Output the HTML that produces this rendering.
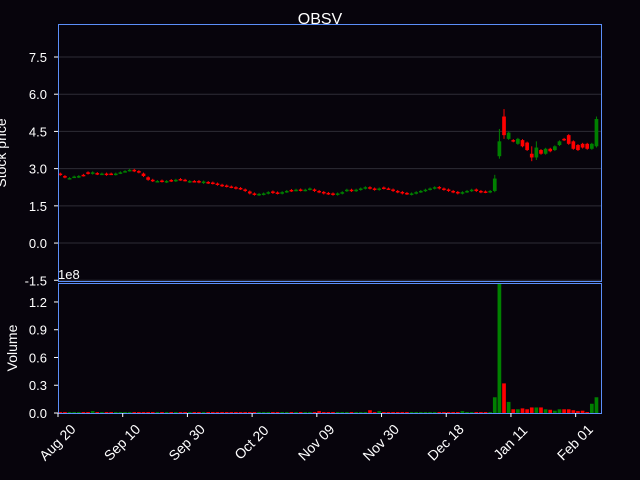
<!DOCTYPE html>
<html><head><meta charset="utf-8"><style>
body{margin:0;background:#07040c;}
svg{display:block;font-family:"Liberation Sans","DejaVu Sans",sans-serif;}
</style></head><body>
<svg id="c" width="640" height="480"></svg>
<script>
const dates=["Aug 20","Sep 10","Sep 30","Oct 20","Nov 09","Nov 30","Dec 18","Jan 11","Feb 01"];
const tickIdx=[0,14,28,42,56,70,84,98,112];
const closeP=[2.75,2.65,2.62,2.68,2.7,2.72,2.8,2.85,2.78,2.8,2.75,2.78,
2.8,2.85,2.9,2.95,2.9,2.85,2.7,2.55,2.5,2.5,2.48,2.5,2.5,2.55,
2.55,2.52,2.5,2.48,2.45,2.48,2.42,2.4,2.35,2.3,2.28,2.25,
2.2,2.18,2.1,2.0,1.95,1.98,2.0,2.05,2.02,2.0,2.05,2.1,2.1,2.15,
2.12,2.15,2.2,2.1,2.05,2.0,1.98,1.95,2.0,2.05,2.15,
2.1,2.15,2.2,2.25,2.2,2.15,2.2,2.2,2.18,2.1,2.05,2.0,1.98,2.0,
2.05,2.1,2.15,2.2,2.25,2.2,2.15,2.1,2.05,2.0,2.05,2.1,
2.15,2.1,2.05,2.05,2.1,
2.6,4.1,4.35,4.45,4.1,4.2,3.9,3.75,3.45,3.85,3.6,3.8,3.7,3.9,4.1,4.15,4.0,3.8,3.75,3.85,3.8,4.0,5.0];
const openP=[2.8,2.7,2.6,2.66,2.66,2.75,2.85,2.8,2.82,2.78,2.8,2.8,
2.76,2.82,2.88,2.92,2.95,2.9,2.8,2.65,2.55,2.48,2.52,2.46,2.54,2.5,
2.58,2.55,2.46,2.5,2.5,2.42,2.46,2.44,2.4,2.35,2.32,2.28,
2.25,2.22,2.16,2.08,2.0,1.94,1.96,2.0,2.08,2.04,2.0,2.06,2.14,2.12,
2.16,2.12,2.16,2.16,2.1,2.06,2.02,2.0,1.95,2.0,2.1,
2.15,2.1,2.15,2.2,2.25,2.2,2.15,2.24,2.2,2.16,2.1,2.06,2.02,1.96,
2.0,2.06,2.1,2.16,2.2,2.26,2.2,2.16,2.1,2.06,2.0,2.06,
2.1,2.16,2.1,2.08,2.05,
2.1,3.5,5.1,4.2,4.15,4.0,4.15,4.05,3.6,3.45,3.75,3.6,3.8,3.75,3.95,4.2,4.35,4.1,3.95,4.0,4.0,3.8,3.9];
const highP={94:2.75,95:4.6,96:5.4,102:3.9,103:4.1,116:5.1};
const lowP={94:2.05,95:3.4,96:4.2,102:3.3,103:3.35,116:3.85};
const volume=[0.01,0.01,0.01,0.01,0.01,0.01,0.01,0.02,0.01,0.01,0.01,0.01,
0.01,0.01,0.01,0.01,0.01,0.01,0.01,0.01,0.01,0.01,0.01,0.01,0.01,0.01,
0.01,0.01,0.01,0.01,0.01,0.01,0.01,0.01,0.01,0.01,0.01,0.01,
0.01,0.01,0.01,0.01,0.01,0.01,0.01,0.01,0.01,0.01,0.01,0.01,0.01,0.01,
0.01,0.01,0.01,0.01,0.02,0.01,0.01,0.01,0.01,0.01,0.01,
0.01,0.01,0.01,0.01,0.03,0.01,0.02,0.01,0.01,0.01,0.01,0.01,0.01,0.01,
0.01,0.01,0.01,0.01,0.01,0.01,0.01,0.01,0.01,0.01,0.02,0.01,
0.01,0.01,0.01,0.01,0.01,
0.17,1.4,0.32,0.12,0.04,0.04,0.05,0.04,0.06,0.06,0.06,0.04,0.035,0.025,0.04,0.04,0.04,0.03,0.02,0.025,0.01,0.1,0.17];
const priceTicks=[-1.5,0,1.5,3.0,4.5,6.0,7.5];
const volTicks=[0,0.3,0.6,0.9,1.2];

const L=58,R=602,T1=24,B1=282,T2=283,B2=413;
const N=117.7;
const sx=i=>L+(i+0.5)*(R-L)/N;
const tx=i=>L+i*(R-L)/N;
const pmin=-1.57,pmax=8.83;
const sy=v=>B1-(v-pmin)/(pmax-pmin)*(B1-T1);
const vmax=1.405;
const vy=v=>B2-v/vmax*(B2-T2);
const svg=document.getElementById('c');
const NS='http://www.w3.org/2000/svg';
function mk(tag,attrs,parent){const e=document.createElementNS(NS,tag);for(const k in attrs)e.setAttribute(k,attrs[k]);(parent||svg).appendChild(e);return e;}
const bg=mk('rect',{x:0,y:0,width:640,height:480,fill:'#07040c'});


priceTicks.forEach(v=>{
 const g=mk('line',{x1:L,x2:R,y1:sy(v),y2:sy(v),stroke:'#2e2c36','stroke-width':1});
 
 
 const t=mk('text',{x:L-11,y:sy(v)+5,fill:'#fff','font-size':13,'text-anchor':'end'});
 t.textContent=v.toFixed(1);
 
 
 mk('line',{x1:L-4,x2:L,y1:sy(v),y2:sy(v),stroke:'#fff'});
});
volTicks.forEach(v=>{
 const t=mk('text',{x:L-11,y:vy(v)+5,fill:'#fff','font-size':13,'text-anchor':'end'});
 t.textContent=v.toFixed(1);
 
 
 mk('line',{x1:L-4,x2:L,y1:vy(v),y2:vy(v),stroke:'#fff'});
});
const bw=(R-L)/N*0.8;
closeP.forEach((c,i)=>{
 const o=openP[i];const up=c>=o;const col=up?'#008000':'#ff0000';
 const hi=highP[i]!==undefined?highP[i]:Math.max(o,c)+0.04;
 const lo=lowP[i]!==undefined?lowP[i]:Math.min(o,c)-0.04;
 const w=mk('line',{x1:sx(i),x2:sx(i),y1:sy(hi),y2:sy(lo),stroke:col,'stroke-width':1});
 
 
 const top=sy(Math.max(o,c)),bot=sy(Math.min(o,c));
 const b=mk('rect',{x:sx(i)-bw/2,y:top,width:bw,height:Math.max(1.5,bot-top),fill:col});
 
 
 const vb=mk('rect',{x:sx(i)-bw/2,y:vy(volume[i]),width:bw,height:B2-vy(volume[i]),fill:col});
 
 
});
const f1=mk('rect',{x:L+0.5,y:T1+0.5,width:R-L-1,height:B1-T1-1,fill:'none',stroke:'#5b8ff9','stroke-width':1});


const f2=mk('rect',{x:L+0.5,y:T2+0.5,width:R-L-1,height:B2-T2,fill:'none',stroke:'#5b8ff9','stroke-width':1});


tickIdx.forEach((ix,k)=>{
 const x=tx(ix);
 mk('line',{x1:x,x2:x,y1:B2,y2:B2+4,stroke:'#fff'});
 const cy=B2+30;
 const t=mk('text',{x:x,y:cy+4,fill:'#fff','font-size':14,'text-anchor':'middle',transform:`rotate(-45 ${x} ${cy})`});
 t.textContent=dates[k];
 
 
});
const ti=mk('text',{x:320,y:24,fill:'#fff','font-size':16,'text-anchor':'middle'});ti.textContent='OBSV';


const yl=mk('text',{x:6,y:153,fill:'#fff','font-size':14,'text-anchor':'middle',transform:'rotate(-90 6 153)'});yl.textContent='Stock price';


const vl=mk('text',{x:17,y:348,fill:'#fff','font-size':14,'text-anchor':'middle',transform:'rotate(-90 17 348)'});vl.textContent='Volume';


const ex=mk('text',{x:58,y:279,fill:'#fff','font-size':13});ex.textContent='1e8';


</script>
</body></html>
